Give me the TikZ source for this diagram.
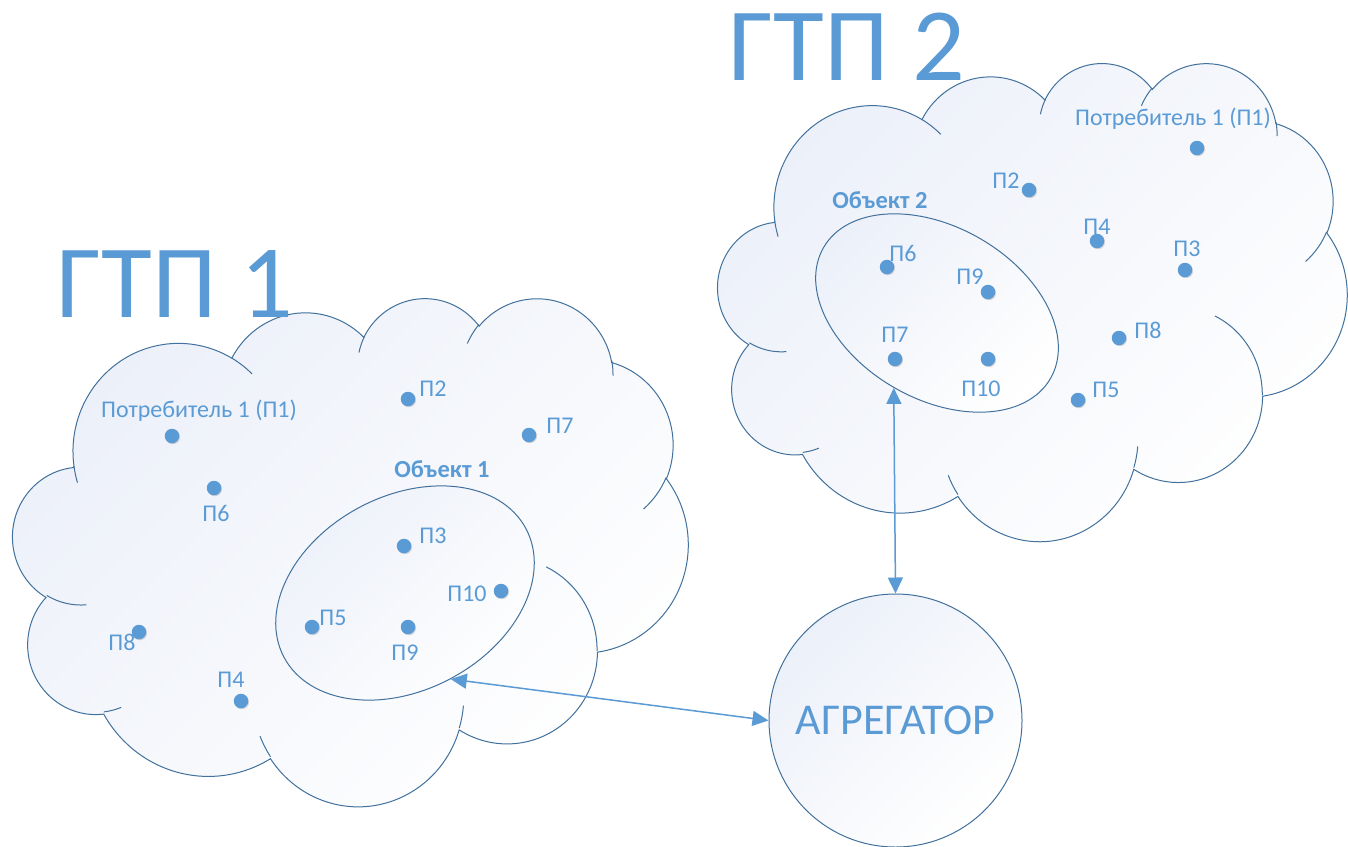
\documentclass[tikz,border=0pt]{standalone}
\usepackage{fontspec}
\setmainfont{Carlito}
\usetikzlibrary{arrows.meta}
\usetikzlibrary{positioning}
\usetikzlibrary{shapes.geometric}
\usetikzlibrary{shadows}
\definecolor{accent}{RGB}{91,155,213}
\definecolor{rim}{RGB}{65,113,156}
\definecolor{haze}{RGB}{236,240,249}
\tikzset{lobe/.style n args = {4}{x radius=#1, y radius=#2,
                                  start angle={atan2(#1*sin(#3),#2*cos(#3))},
                                  delta angle={Mod(atan2(#1*sin(#3+#4),#2*cos(#3+#4))-atan2(#1*sin(#3),#2*cos(#3)),360)}},
         body/.style = {draw=rim, line width=1pt, top color=haze, bottom color=white, shading angle=45},
         seam/.style = {draw=rim, line width=1pt},
         spot/.style = {circle, fill=accent, minimum size=14.5pt, inner sep=0pt,
                        drop shadow={shadow xshift=0.8pt, shadow yshift=-1pt, opacity=0.3}},
         tag/.style = {text=accent, font=\fontsize{24}{28}\selectfont, inner sep=0pt},
         title/.style = {text=accent, font=\fontsize{104}{112}\selectfont, inner sep=0pt},
         link/.style = {draw=accent, line width=1.5pt,
                        {Triangle[length=16pt,width=15pt]}-{Triangle[length=16pt,width=15pt]}}}

% cloud outline in a 432 x 432 frame
\newcommand{\gtpcloud}[4]{%
  \begin{scope}[shift={(#1,#2)}, xscale=#3/432, yscale=#4/432]
    \path[body] (39,143.7)
      arc[lobe={67.53}{91.90}{-190.4875}{123.7805}]
      arc[lobe={53.33}{72.67}{-144.1024}{89.9452}]
      arc[lobe={43.65}{59.45}{-145.8079}{99.7230}]
      arc[lobe={48.57}{65.95}{-130.9861}{117.2417}]
      arc[lobe={53.33}{72.73}{-78.7089}{109.0269}]
      arc[lobe={67.75}{92.20}{-46.2673}{130.2690}]
      arc[lobe={57.85}{78.67}{0.6250}{114.0333}]
      arc[lobe={67.52}{92.15}{22.4516}{115.1726}]
      arc[lobe={77.20}{105.43}{66.2426}{75.7110}]
      arc[lobe={43.60}{59.18}{-274.9421}{146.7356}]
      arc[lobe={43.45}{59.45}{-246.8285}{152.5189}] -- cycle;
    \path[seam] (46.93,261.77) arc[lobe={43.45}{59.45}{86.7420}{26.4295}]
      (69.28,348.99) arc[lobe={43.60}{59.18}{73.6105}{11.4475}]
      (164.78,390.90) arc[lobe={67.52}{92.15}{137.6242}{14.0811}]
      (288.27,347.51) arc[lobe={67.52}{92.15}{6.4533}{15.9984}]
      (341.29,229.54) arc[lobe={57.85}{78.67}{-70.2924}{70.9174}]
      (417.98,153.54) arc[lobe={53.33}{72.73}{30.3180}{27.7515}]
      (383.24,54.26) arc[lobe={48.57}{65.95}{-13.7443}{14.8589}]
      (290.78,39.52) arc[lobe={48.57}{65.95}{-149.1815}{18.1954}]
      (221.41,47.20) arc[lobe={43.65}{59.45}{-163.4943}{17.6864}]
      (140.00,51.92) arc[lobe={67.53}{91.90}{-66.7070}{12.3194}]
      (41.27,157.89) arc[lobe={67.53}{91.90}{157.6544}{11.8582}];
  \end{scope}}

\begin{document}
\begin{tikzpicture}[x=1pt, y=-1pt]
  \useasboundingbox[fill=white] (0,0) rectangle (1348,846);

  \gtpcloud{13}{297}{675}{508}
  \gtpcloud{718}{62}{629}{478}

  \node[title] (gtp1) at (175,284) {ГТП 1};
  \node[title] (gtp2) at (847,47) {ГТП 2};

  \node[ellipse, body, inner sep=0pt, minimum width=274pt, minimum height=194pt, rotate=28] (obj1) at (405,593) {};
  \node[ellipse, body, inner sep=0pt, minimum width=262pt, minimum height=172pt, rotate=-30] (obj2) at (937,313) {};
  \node[circle, body, inner sep=0pt, minimum size=253pt, text=accent,
        font=\fontsize{44}{50}\selectfont] (agg) at (895.5,720.5) {АГРЕГАТОР};

  \node[tag, font=\fontsize{24.5}{28}\selectfont\bfseries] (obj1name) at (442,469) {Объект 1};
  \node[tag, font=\fontsize{24.5}{28}\selectfont\bfseries] (obj2name) at (880,200) {Объект 2};

  \draw[link] (obj1.south) -- (agg.west);
  \draw[link] (obj2.south) -- (agg.north);

  % consumers of GTP 1
  \foreach \n/\px/\py/\lx/\ly/\txt in {1/172/436/199/411/{Потребитель 1 (П1)}, 2/408/399/433/389/П2,
        3/404/546/433/536/П3, 4/241/701/231/680/П4, 5/312/627/333/618/П5, 6/214/488/216/513/П6,
        7/529/435/560/426/П7, 8/139/632/122/642/П8, 9/408/627/405/653/П9, 10/501/591/467/594/П10} {
    \node[spot] (a\n) at (\px,\py) {};
    \node[tag] (ta\n) at (\lx,\ly) {\txt};
  }
  % consumers of GTP 2
  \foreach \n/\px/\py/\lx/\ly/\txt in {1/1197/148/1173/119/{Потребитель 1 (П1)}, 2/1029/190/1006/181/П2,
        3/1185/270/1187/249/П3, 4/1097/241/1097/227/П4, 5/1078/400/1106/390/П5, 6/887/267/903/253/П6,
        7/895/359/895/335/П7, 8/1119/338/1148/330/П8, 9/988/292/970/277/П9, 10/988/359/981/389/П10} {
    \node[spot] (b\n) at (\px,\py) {};
    \node[tag] (tb\n) at (\lx,\ly) {\txt};
  }
\end{tikzpicture}
\end{document}
